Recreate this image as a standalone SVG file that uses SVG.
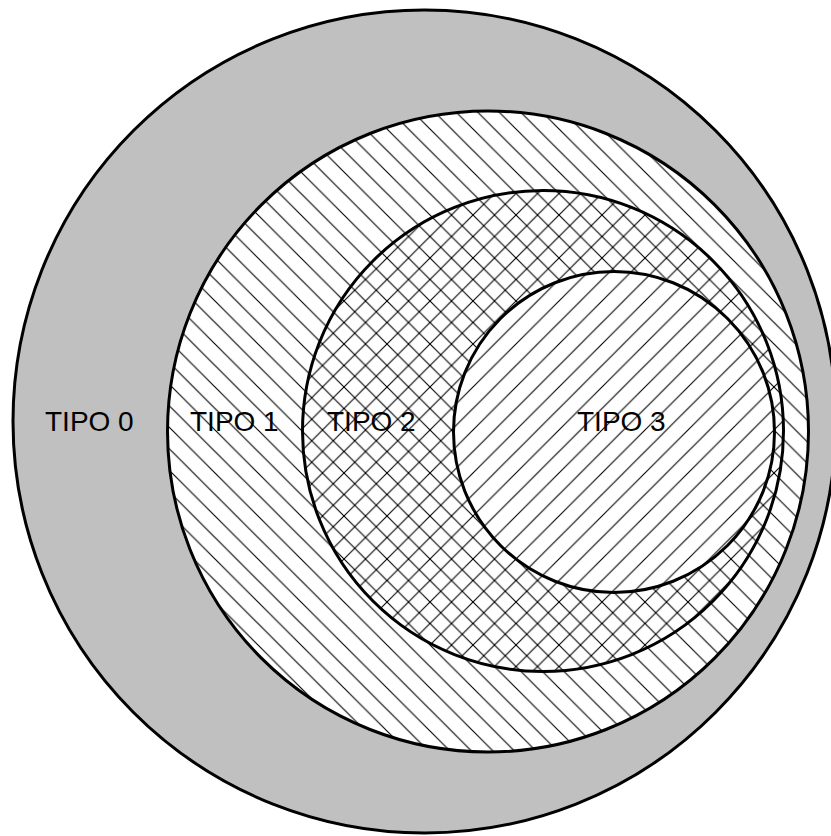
<svg xmlns="http://www.w3.org/2000/svg" width="831" height="836" viewBox="0 0 831 836">
  <style>
    .ring { stroke: #000; stroke-width: 3; }
    .lbl { font-family: "Liberation Sans", Arial, sans-serif; font-size: 28px; fill: #000; }
    .hl { stroke: #000; stroke-width: 1.1; fill: none; }
  </style>
  <defs>
    <pattern id="back" patternUnits="userSpaceOnUse" width="21.5" height="21.5">
      <rect width="21.5" height="21.5" fill="#fff"/>
      <path class="hl" d="M-2,-2 L23.5,23.5 M-2,19.5 L2,23.5 M19.5,-2 L23.5,2"/>
    </pattern>
    <pattern id="fwd" patternUnits="userSpaceOnUse" width="21.5" height="21.5">
      <rect width="21.5" height="21.5" fill="#fff"/>
      <path class="hl" d="M-2,23.5 L23.5,-2 M-2,2 L2,-2 M19.5,23.5 L23.5,19.5"/>
    </pattern>
    <pattern id="cross" patternUnits="userSpaceOnUse" width="21.5" height="21.5">
      <rect width="21.5" height="21.5" fill="#fff"/>
      <path class="hl" d="M-2,-2 L23.5,23.5 M-2,19.5 L2,23.5 M19.5,-2 L23.5,2"/>
      <path class="hl" d="M-2,23.5 L23.5,-2 M-2,2 L2,-2 M19.5,23.5 L23.5,19.5"/>
    </pattern>
  </defs>
  <rect width="831" height="836" fill="#fff"/>
  <g id="tipo0">
    <circle class="ring" cx="424.5" cy="421.5" r="411.5" fill="#c0c0c0"/>
    <text class="lbl" x="45" y="431">TIPO 0</text>
  </g>
  <g id="tipo1">
    <circle class="ring" cx="488" cy="431.5" r="320.5" fill="url(#back)"/>
  </g>
  <g id="tipo2">
    <circle class="ring" cx="543" cy="431" r="240.5" fill="url(#cross)"/>
  </g>
  <g id="tipo3">
    <circle class="ring" cx="614" cy="432" r="160.5" fill="url(#fwd)"/>
  </g>
  <g id="labels">
    <text class="lbl" x="190" y="431">TIPO 1</text>
    <text class="lbl" x="327" y="431">TIPO 2</text>
    <text class="lbl" x="577" y="431">TIPO 3</text>
  </g>
</svg>
